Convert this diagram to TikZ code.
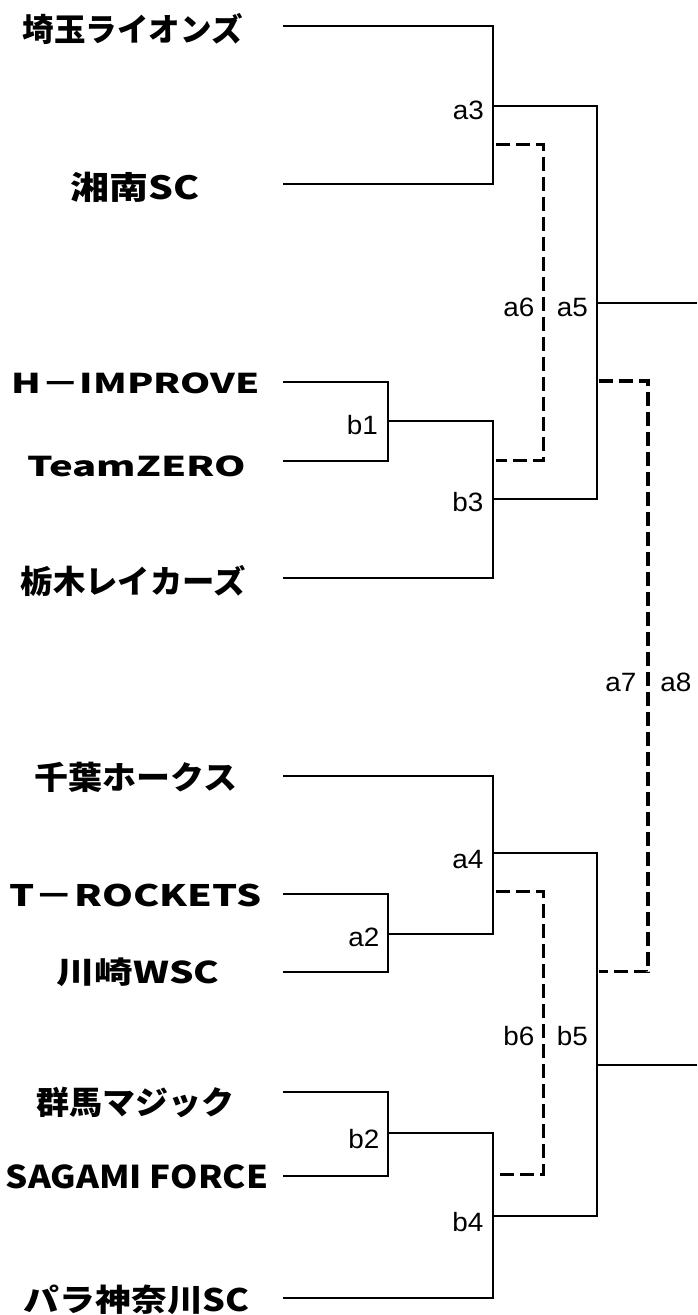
\documentclass[tikz,border=0pt]{standalone}
\usepackage{fontspec}
\usepackage{graphicx}
\setmainfont{Liberation Sans}
\newfontfamily\jpf{Noto Sans CJK JP}
\newfontfamily\lbf{Liberation Sans}
\newcommand{\tmname}[3]{{\jpf\bfseries\fontsize{#1pt}{#1pt}\selectfont\resizebox{#2pt}{\height}{#3}}}
\newcommand{\lbtxt}[1]{{\lbf\fontsize{26.5pt}{26.5pt}\selectfont\resizebox{31pt}{\height}{#1}}}
\begin{document}
\begin{tikzpicture}[x=1pt,y=-1pt,
  wire/.style={line width=2pt, line join=miter},
  dsh/.style={line width=3.5pt, dash pattern=on 14pt off 6pt},
  team/.style={inner sep=0pt, anchor=base},
  lbl/.style={inner sep=0pt, anchor=base east}]
\useasboundingbox (0,0) rectangle (697,1315);
\fill[white] (0,0) rectangle (697,1315);

% team names
\node[team] (t1)  at (132.5,41.3)  {\tmname{32}{220}{埼玉ライオンズ}};
\node[team] (t2)  at (135,199.7)   {\tmname{32}{129}{湘南SC}};
\node[team] (t3)  at (135.5,393.3) {\tmname{27.3}{248}{H－IMPROVE}};
\node[team] (t4)  at (136.7,476.7) {\tmname{27.3}{219}{TeamZERO}};
\node[team] (t5)  at (133.3,593)   {\tmname{32}{225}{栃木レイカーズ}};
\node[team] (t6)  at (135.6,789.7) {\tmname{32}{203}{千葉ホークス}};
\node[team] (t7)  at (135.5,906.7) {\tmname{29.6}{252}{T－ROCKETS}};
\node[team] (t8)  at (137.8,983)   {\tmname{30}{163}{川崎WSC}};
\node[team] (t9)  at (135.5,1114.7){\tmname{32}{198}{群馬マジック}};
\node[team] (t10) at (137,1188)    {\tmname{31.4}{262}{SAGAMI FORCE}};
\node[team] (t11) at (136.7,1311)  {\tmname{31}{226}{パラ神奈川SC}};

% line starts
\coordinate (s1) at (283,26);
\coordinate (s2) at (283,184.3);
\coordinate (s3) at (283,381.7);
\coordinate (s4) at (283,460.7);
\coordinate (s5) at (283,578.3);
\coordinate (s6) at (283,775.7);
\coordinate (s7) at (283,894);
\coordinate (s8) at (283,972.3);
\coordinate (s9) at (283,1092.3);
\coordinate (s10) at (283,1175.7);
\coordinate (s11) at (283,1298.3);

% match junctions
\coordinate (ma3) at (492.5,106);
\coordinate (mb1) at (388,421);
\coordinate (mb3) at (492.5,499.3);
\coordinate (ma5) at (597,303.3);
\coordinate (ea5) at (697,303.3);
\coordinate (ma2) at (388,934);
\coordinate (ma4) at (492.5,853.3);
\coordinate (mb2) at (388,1133.3);
\coordinate (mb4) at (492.5,1216);
\coordinate (mb5) at (597,1065);
\coordinate (eb5) at (697,1065);

% solid bracket lines
\draw[wire] (s1) -| (ma3);
\draw[wire] (s2) -| (ma3);
\draw[wire] (s3) -| (mb1);
\draw[wire] (s4) -| (mb1);
\draw[wire] (mb1) -| (mb3);
\draw[wire] (s5) -| (mb3);
\draw[wire] (ma3) -| (ma5);
\draw[wire] (mb3) -| (ma5);
\draw[wire] (ma5) -- (ea5);
\draw[wire] (s7) -| (ma2);
\draw[wire] (s8) -| (ma2);
\draw[wire] (s6) -| (ma4);
\draw[wire] (ma2) -| (ma4);
\draw[wire] (s9) -| (mb2);
\draw[wire] (s10) -| (mb2);
\draw[wire] (mb2) -| (mb4);
\draw[wire] (s11) -| (mb4);
\draw[wire] (ma4) -| (mb5);
\draw[wire] (mb4) -| (mb5);
\draw[wire] (mb5) -- (eb5);

% dashed brackets
\coordinate (a6s) at (496,144.3);
\coordinate (a6k) at (543.5,300);
\coordinate (a6e) at (496,460.7);
\draw[dsh] (a6s) -| (a6k) |- (a6e);
\coordinate (b6s) at (496,891.7);
\coordinate (b6k) at (543.5,1030);
\coordinate (b6e) at (496,1174.3);
\draw[dsh] (b6s) -| (b6k) |- (b6e);
\coordinate (a7s) at (598.5,381);
\coordinate (a7k) at (648,680);
\coordinate (a7e) at (598.5,971.7);
\draw[dsh] (a7s) -| (a7k) |- (a7e);

% match labels
\node[lbl] (la3) at (484,119.3)  {\lbtxt{a3}};
\node[lbl] (la6) at (534.5,316.7){\lbtxt{a6}};
\node[lbl] (la5) at (588,316.7)  {\lbtxt{a5}};
\node[lbl] (lb1) at (378,434.3)  {\lbtxt{b1}};
\node[lbl] (lb3) at (483.5,511.7){\lbtxt{b3}};
\node[lbl] (la7) at (636.5,691.7){\lbtxt{a7}};
\node[lbl] (la8) at (691.5,691.7){\lbtxt{a8}};
\node[lbl] (la4) at (483.5,868.3){\lbtxt{a4}};
\node[lbl] (la2) at (379.5,946.7){\lbtxt{a2}};
\node[lbl] (lb6) at (534.5,1045) {\lbtxt{b6}};
\node[lbl] (lb5) at (588,1045)   {\lbtxt{b5}};
\node[lbl] (lb2) at (379.5,1148.3){\lbtxt{b2}};
\node[lbl] (lb4) at (483.5,1231.7){\lbtxt{b4}};
\end{tikzpicture}
\end{document}
